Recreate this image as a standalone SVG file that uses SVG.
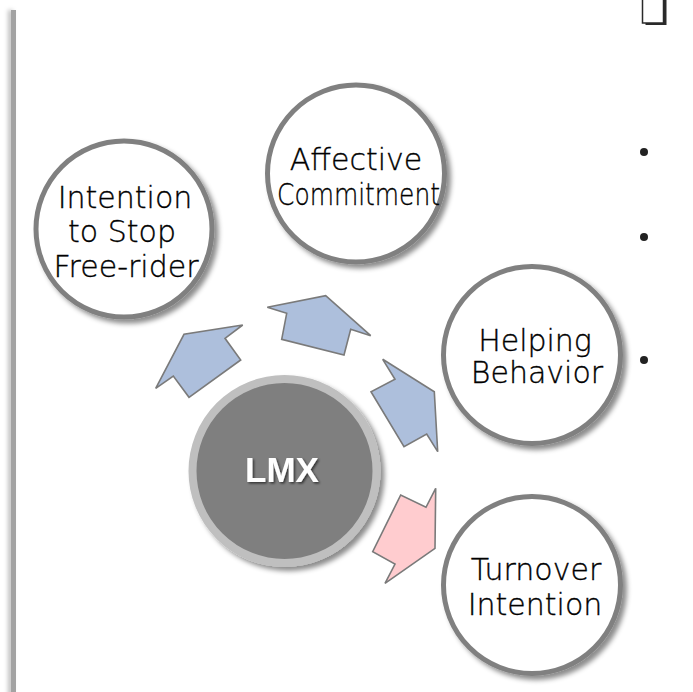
<svg xmlns="http://www.w3.org/2000/svg" width="693" height="692" viewBox="0 0 693 692">
  <defs>
    <filter id="shadow" x="-20%" y="-20%" width="140%" height="140%">
      <feDropShadow dx="4" dy="4" stdDeviation="2.5" flood-color="#000" flood-opacity="0.45"/>
    </filter>
    <filter id="barShadow" x="-200%" y="-5%" width="400%" height="110%">
      <feDropShadow dx="-3" dy="0" stdDeviation="2" flood-color="#000" flood-opacity="0.25"/>
    </filter>
    <filter id="textShadow" x="-20%" y="-20%" width="140%" height="140%">
      <feDropShadow dx="1.5" dy="1.5" stdDeviation="1" flood-color="#000" flood-opacity="0.6"/>
    </filter>
  </defs>
  <style>
    .node { fill: #ffffff; stroke: #808080; stroke-width: 5; }
    .label { font-family: "DejaVu Sans", "Liberation Sans", sans-serif; font-size: 30px; font-weight: 200; fill: #000000; stroke: #000000; stroke-width: 0.35; text-anchor: middle; }
    .arrow { stroke: #7a7a7a; stroke-width: 1.6; stroke-linejoin: miter; }
    .blue { fill: #adbfdc; }
    .pink { fill: #ffcccf; }
    .bullet { fill: #222222; }
  </style>

  <rect width="693" height="692" fill="#ffffff"/>

  <!-- slide frame edge -->
  <rect x="11" y="10" width="5" height="690" fill="#a3a3a3" filter="url(#barShadow)"/>

  <!-- checkbox bullet -->
  <g id="checkbox">
    <rect x="645.5" y="-2" width="21" height="27" fill="#2a2a2a"/>
    <rect x="642.5" y="-4" width="21" height="27" fill="#ffffff" stroke="#2a2a2a" stroke-width="1.5"/>
  </g>

  <!-- list bullets -->
  <g id="bullets">
    <circle class="bullet" cx="644" cy="152" r="4"/>
    <circle class="bullet" cx="644" cy="237" r="4"/>
    <circle class="bullet" cx="644" cy="360" r="4"/>
  </g>

  <!-- connectors -->
  <g id="connectors">
    <polygon class="arrow blue" points="155.7,388.3 184,334.3 242.7,325 225,338.3 240.7,360 189,397.3 173.3,376"/>
    <polygon class="arrow blue" points="267.3,307.3 325.7,295.7 370.7,335.7 350.7,329.3 344,355 281.7,339.3 286.7,313.3"/>
    <polygon class="arrow blue" points="382.7,359.3 434.3,391.7 437.7,451.7 426.7,434 404,446.7 371,391.7 395,379.3"/>
    <polygon class="arrow pink" points="435.7,488.3 435,548.3 385,583.3 395,564 372.7,551.7 400.7,495 426,507.3"/>
  </g>

  <!-- center node -->
  <g id="lmx">
    <circle cx="284.5" cy="471" r="92" fill="#7f7f7f" stroke="#bfbfbf" stroke-width="8" filter="url(#shadow)"/>
    <text x="282" y="482" font-family="'Liberation Sans', Arial, sans-serif" font-size="35" font-weight="bold" fill="#ffffff" text-anchor="middle" filter="url(#textShadow)">LMX</text>
  </g>

  <g id="intention-stop">
    <circle class="node" cx="124" cy="229" r="88" filter="url(#shadow)"/>
    <text class="label" x="125" y="208">Intention</text>
    <text class="label" x="122" y="242">to Stop</text>
    <text class="label" x="126" y="277">Free-rider</text>
  </g>

  <g id="affective">
    <circle class="node" cx="356" cy="173.5" r="88.5" filter="url(#shadow)"/>
    <text class="label" x="356" y="170">Affective</text>
    <text class="label" x="358.5" y="205" textLength="163" lengthAdjust="spacingAndGlyphs">Commitment</text>
  </g>

  <g id="helping">
    <circle class="node" cx="532" cy="355" r="88.5" filter="url(#shadow)"/>
    <text class="label" x="535" y="351">Helping</text>
    <text class="label" x="537" y="383">Behavior</text>
  </g>

  <g id="turnover">
    <circle class="node" cx="532" cy="585" r="88.5" filter="url(#shadow)"/>
    <text class="label" x="536" y="580">Turnover</text>
    <text class="label" x="535" y="615">Intention</text>
  </g>
</svg>
